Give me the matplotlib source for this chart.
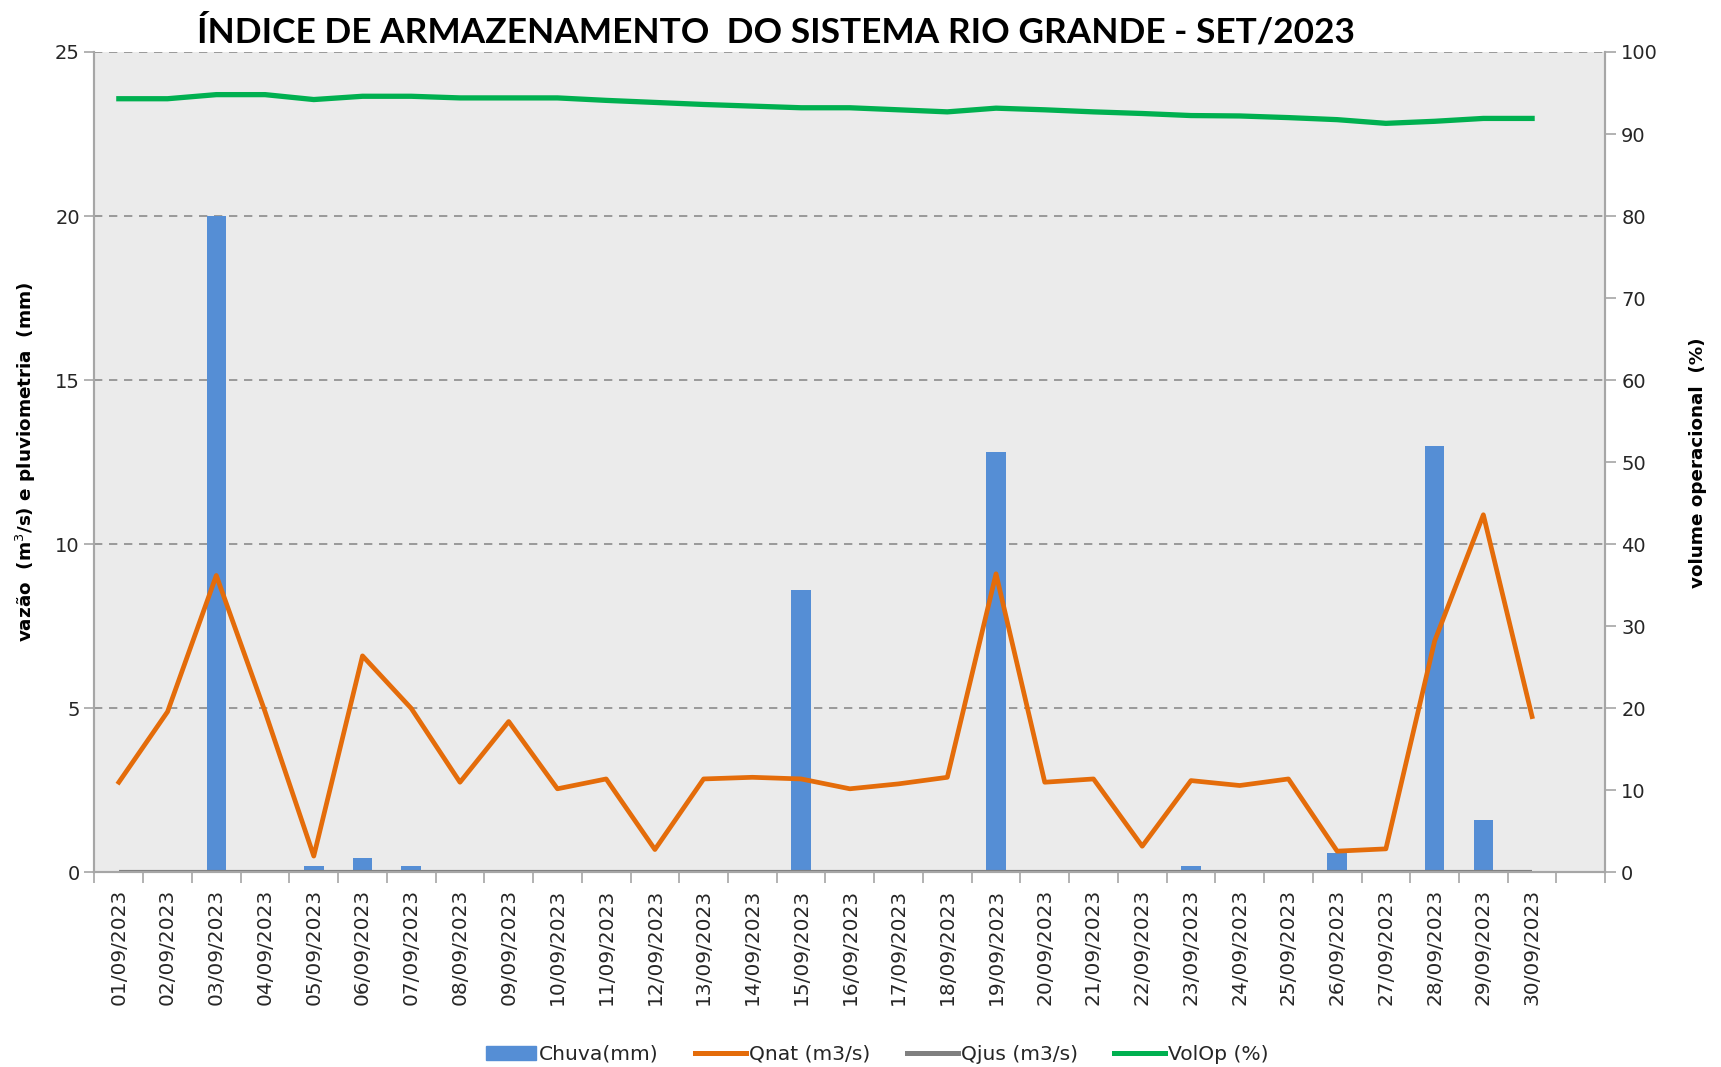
import matplotlib.pyplot as plt
from matplotlib.lines import Line2D
from matplotlib.patches import Patch

dias = [f'{d:02d}/09/2023' for d in range(1, 31)]

chuva_mm = [0, 0, 20.0, 0, 0.2, 0.45, 0.2, 0, 0, 0,
            0, 0, 0, 0, 8.6, 0, 0, 0, 12.8, 0,
            0, 0, 0.2, 0, 0, 0.6, 0, 13.0, 1.6, 0]

qnat = [2.75, 4.9, 9.05, 4.9, 0.5, 6.6, 5.0, 2.75, 4.6, 2.55,
        2.85, 0.7, 2.85, 2.9, 2.85, 2.55, 2.7, 2.9, 9.1, 2.75,
        2.85, 0.8, 2.8, 2.65, 2.85, 0.65, 0.72, 7.05, 10.9, 4.75]

qjus = [0] * 30

volop = [94.3, 94.3, 94.8, 94.8, 94.2, 94.6, 94.6, 94.4, 94.4, 94.4,
         94.1, 93.85, 93.6, 93.4, 93.2, 93.2, 92.95, 92.7, 93.15, 92.95,
         92.7, 92.5, 92.25, 92.2, 92.0, 91.75, 91.3, 91.55, 91.9, 91.9]

AZUL = '#558ED5'
LARANJA = '#E46C0A'
CINZA = '#808080'
VERDE = '#00B050'
EIXO = '#A6A6A6'
TEXTO = '#262626'

fig = plt.figure(figsize=(17.21, 10.67), dpi=100)
ax = fig.add_axes([0.0549, 0.1823, 0.8778, 0.769])
ax.set_facecolor('#EBEBEB')
ax2 = ax.twinx()

x = list(range(len(dias)))

ax.bar(x, chuva_mm, width=0.4, color=AZUL, zorder=2)
ax.plot(x, qjus, color=CINZA, lw=3, zorder=3, solid_capstyle='butt')
ax.plot(x, qnat, color=LARANJA, lw=3.4, zorder=4)
ax2.plot(x, volop, color=VERDE, lw=3.8, zorder=4)

# eixo x com 31 posicoes (a ultima vazia), como no Excel
ax.set_xlim(-0.5, 30.5)
ax.set_xticks(x)
ax.set_xticklabels(dias, rotation=90, fontsize=14.5, color=TEXTO)
ax.set_xticks([i - 0.5 for i in range(32)], minor=True)
ax.tick_params(axis='x', which='major', length=0, pad=12)
ax.tick_params(axis='x', which='minor', length=8, color=EIXO, width=1.2)

ax.set_ylim(0, 25)
ax.set_yticks(range(0, 26, 5))
ax.tick_params(axis='y', labelsize=14, labelcolor=TEXTO, length=7, color=EIXO, width=1.2)
ax.yaxis.grid(True, linestyle=(0, (5, 4)), color='#8C8C8C', lw=1.2)
ax.set_axisbelow(True)

ax2.set_ylim(0, 100)
ax2.set_yticks(range(0, 101, 10))
ax2.tick_params(axis='y', labelsize=14, labelcolor=TEXTO, length=8, color=EIXO, width=1.2)

for a in (ax, ax2):
    a.spines['top'].set_visible(False)
    for s in ('left', 'right', 'bottom'):
        a.spines[s].set_color(EIXO)
        a.spines[s].set_linewidth(1.5)

ax.set_ylabel('vazão  (m$^3$/s) e pluviometria  (mm)', fontsize=13.2, fontweight='bold', labelpad=12)
ax2.set_ylabel('volume operacional  (%)', fontsize=13.2, fontweight='bold', labelpad=22)

fig.text(0.4506, 0.970, 'ÍNDICE DE ARMAZENAMENTO  DO SISTEMA RIO GRANDE - SET/2023',
         ha='center', va='center', fontsize=25.4, fontweight='bold', family='Lato')

handles = [Patch(color=AZUL),
           Line2D([], [], color=LARANJA, lw=3.6),
           Line2D([], [], color=CINZA, lw=3.6),
           Line2D([], [], color=VERDE, lw=3.6)]
labels = ['Chuva(mm)', 'Qnat (m3/s)', 'Qjus (m3/s)', 'VolOp (%)']
fig.legend(handles, labels, loc='center', bbox_to_anchor=(0.5096, 0.012), ncol=4,
           frameon=False, fontsize=14.6, handlelength=2.5, handletextpad=0.15,
           columnspacing=1.8, labelcolor=TEXTO)

fig.savefig('out.png', dpi=100)
